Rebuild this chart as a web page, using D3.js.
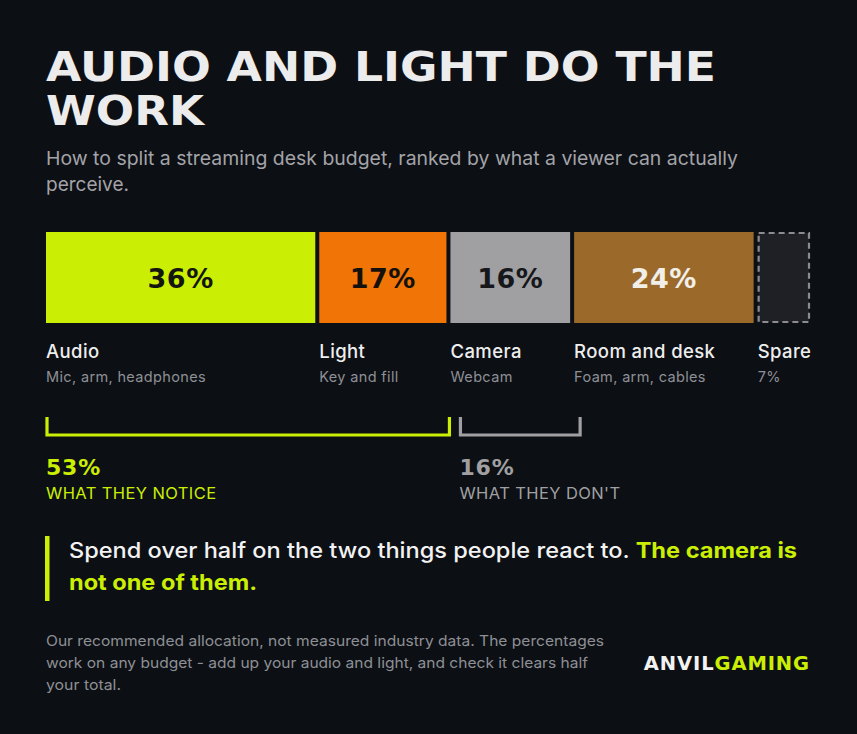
<!DOCTYPE html>
<html><head><meta charset="utf-8">
<script src="https://cdn.jsdelivr.net/npm/d3@7"></script>
<style>html,body{margin:0;padding:0;background:#0c0f14;}svg{display:block;}</style>
</head><body>
<div id="chart"></div>
<script>
const categories = ["Audio", "Light", "Camera", "Room and desk", "Spare"];
const values = [36, 17, 16, 24, 7];
const subLabels = ["Mic, arm, headphones", "Key and fill", "Webcam", "Foam, arm, cables", "7%"];
const showValue = [true, true, true, true, false];
const groups = [
  {label: "WHAT THEY NOTICE", members: ["Audio", "Light"]},
  {label: "WHAT THEY DON'T", members: ["Camera"]}
];
const titleLines = ["AUDIO AND LIGHT DO THE", "WORK"];
const subtitleLines = ["How to split a streaming desk budget, ranked by what a viewer can actually", "perceive."];
const calloutWhite = "Spend over half on the two things people react to. ";
const calloutGreen = ["The camera is", "not one of them."];
const footerLines = ["Our recommended allocation, not measured industry data. The percentages", "work on any budget - add up your audio and light, and check it clears half", "your total."];

const W = 857, H = 734;
const BG = "#0c0f14", GREEN = "#cbee05", GRAY = "#a0a0a3";
const fills = {"Audio": GREEN, "Light": "#f07406", "Camera": "#a0a0a2", "Room and desk": "#9b6a2b", "Spare": "#1f2025"};
const valueColors = {"Audio": "#14160e", "Light": "#14110c", "Camera": "#15171a", "Room and desk": "#f2efe9"};
const bodyFont = "Inter, 'Noto Sans', sans-serif";
const titleFont = "'DejaVu Sans', Inter, sans-serif";

const svg = d3.select("#chart").append("svg").attr("width", W).attr("height", H);
svg.append("rect").attr("width", W).attr("height", H).attr("fill", BG);

// Title
const titleWidths = [670, 158];
svg.append("g").selectAll("text").data(titleLines).join("text")
  .attr("x", 46).attr("y", (d, i) => 81 + i * 44)
  .attr("fill", "#ececec").attr("font-family", titleFont).attr("font-weight", 700)
  .attr("font-size", 40)
  .attr("textLength", (d, i) => titleWidths[i]).attr("lengthAdjust", "spacingAndGlyphs")
  .text(d => d);

// Subtitle
svg.append("g").selectAll("text").data(subtitleLines).join("text")
  .attr("x", 46).attr("y", (d, i) => 165 + i * 26)
  .attr("fill", "#a3a3a8").attr("font-family", bodyFont).attr("font-size", 19)
  .attr("textLength", (d, i) => i === 0 ? 692 : null).attr("lengthAdjust", "spacingAndGlyphs")
  .text(d => d);

// Bars
const left = 46, right = 810, gap = 4;
const total = d3.sum(values);
const x = d3.scaleLinear().domain([0, total]).range([0, (right - left) - gap * (values.length - 1)]);
const cum = d3.cumsum(values);
const segs = categories.map((c, i) => {
  const start = i === 0 ? 0 : cum[i - 1];
  const x0 = left + x(start) + gap * i;
  return {name: c, value: values[i], sub: subLabels[i], show: showValue[i], x0, w: x(values[i])};
});
const barTop = 232, barH = 91;
const bars = svg.append("g");
bars.selectAll("rect").data(segs).join("rect")
  .attr("x", d => d.name === "Spare" ? d.x0 + 1 : d.x0)
  .attr("y", d => d.name === "Spare" ? barTop + 1 : barTop)
  .attr("width", d => d.name === "Spare" ? d.w - 2 : d.w)
  .attr("height", d => d.name === "Spare" ? barH - 2 : barH)
  .attr("fill", d => fills[d.name])
  .attr("stroke", d => d.name === "Spare" ? "#8c8c90" : "none")
  .attr("stroke-width", 2.2)
  .attr("stroke-dasharray", d => d.name === "Spare" ? "6,4" : null);
bars.selectAll("text.val").data(segs.filter(d => d.show)).join("text")
  .attr("class", "val")
  .attr("x", d => d.x0 + d.w / 2).attr("y", barTop + barH / 2 + 10)
  .attr("text-anchor", "middle")
  .attr("fill", d => valueColors[d.name])
  .attr("font-family", titleFont).attr("font-weight", 700).attr("font-size", 27)
  .attr("letter-spacing", 0.5)
  .text(d => d.value + "%");

// Category labels
const labs = svg.append("g");
labs.selectAll("text.name").data(segs).join("text").attr("class", "name")
  .attr("x", d => d.x0).attr("y", 358)
  .attr("fill", "#eeeeee").attr("font-family", bodyFont).attr("font-weight", 500).attr("font-size", 18.5)
  .attr("letter-spacing", 0.4)
  .text(d => d.name);
labs.selectAll("text.sub").data(segs).join("text").attr("class", "sub")
  .attr("x", d => d.x0).attr("y", 382)
  .attr("fill", "#8f9096").attr("font-family", bodyFont).attr("font-size", 14.5)
  .attr("letter-spacing", 0.35)
  .text(d => d.sub);

// Brackets
const segBy = Object.fromEntries(segs.map(d => [d.name, d]));
const g1 = groups[0], g2 = groups[1];
const g1Start = segBy[g1.members[0]].x0 + 1;
const g1Last = segBy[g1.members[g1.members.length - 1]];
const g1End = g1Last.x0 + g1Last.w + 3;
const g2Start = g1End + 11;
const g2End = g2Start + d3.sum(g2.members, m => segBy[m].w);
const bTop = 417, bBot = 435;
const brData = [
  {x0: g1Start, x1: g1End, color: GREEN, label: g1.label, val: d3.sum(g1.members, m => segBy[m].value)},
  {x0: g2Start, x1: g2End, color: GRAY, label: g2.label, val: d3.sum(g2.members, m => segBy[m].value)}
];
const br = svg.append("g");
br.selectAll("path").data(brData).join("path")
  .attr("d", d => `M${d.x0},${bTop}V${bBot}H${d.x1}V${bTop}`)
  .attr("fill", "none").attr("stroke", d => d.color).attr("stroke-width", 3.2);
br.selectAll("text.bv").data(brData).join("text").attr("class", "bv")
  .attr("x", d => d.x0 - 1).attr("y", 475)
  .attr("fill", d => d.color).attr("font-family", titleFont).attr("font-weight", 700).attr("font-size", 22)
  .attr("letter-spacing", 0.8)
  .text(d => d.val + "%");
br.selectAll("text.bl").data(brData).join("text").attr("class", "bl")
  .attr("x", d => d.x0 - 1).attr("y", 499)
  .attr("fill", d => d.color).attr("font-family", bodyFont).attr("font-size", 16.5)
  .attr("letter-spacing", 0.4)
  .text(d => d.label);

// Callout
svg.append("rect").attr("x", 45).attr("y", 536).attr("width", 4.5).attr("height", 65).attr("fill", GREEN);
const c1 = svg.append("text").attr("x", 69).attr("y", 558)
  .attr("font-family", bodyFont).attr("font-size", 21.5).attr("font-weight", 500)
  .attr("textLength", 728).attr("lengthAdjust", "spacingAndGlyphs");
c1.append("tspan").attr("fill", "#f2f2f2").text(calloutWhite);
c1.append("tspan").attr("fill", GREEN).attr("font-weight", 700).text(calloutGreen[0]);
svg.append("text").attr("x", 69).attr("y", 590)
  .attr("font-family", bodyFont).attr("font-size", 21.5).attr("font-weight", 700)
  .attr("textLength", 188).attr("lengthAdjust", "spacingAndGlyphs")
  .attr("fill", GREEN).text(calloutGreen[1]);

// Footer
const footerWidths = [558, 542, 75];
svg.append("g").selectAll("text").data(footerLines).join("text")
  .attr("x", 46).attr("y", (d, i) => 646 + i * 22)
  .attr("fill", "#8e8f95").attr("font-family", bodyFont).attr("font-size", 14.5)
  .attr("textLength", (d, i) => footerWidths[i]).attr("lengthAdjust", "spacingAndGlyphs")
  .text(d => d);
const logo = svg.append("text").attr("x", 810).attr("y", 670).attr("text-anchor", "end")
  .attr("font-family", titleFont).attr("font-weight", 700).attr("font-size", 19.5)
  .attr("letter-spacing", 0.9);
logo.append("tspan").attr("fill", "#f2f2f2").text("ANVIL");
logo.append("tspan").attr("fill", GREEN).text("GAMING");
</script>
</body></html>
